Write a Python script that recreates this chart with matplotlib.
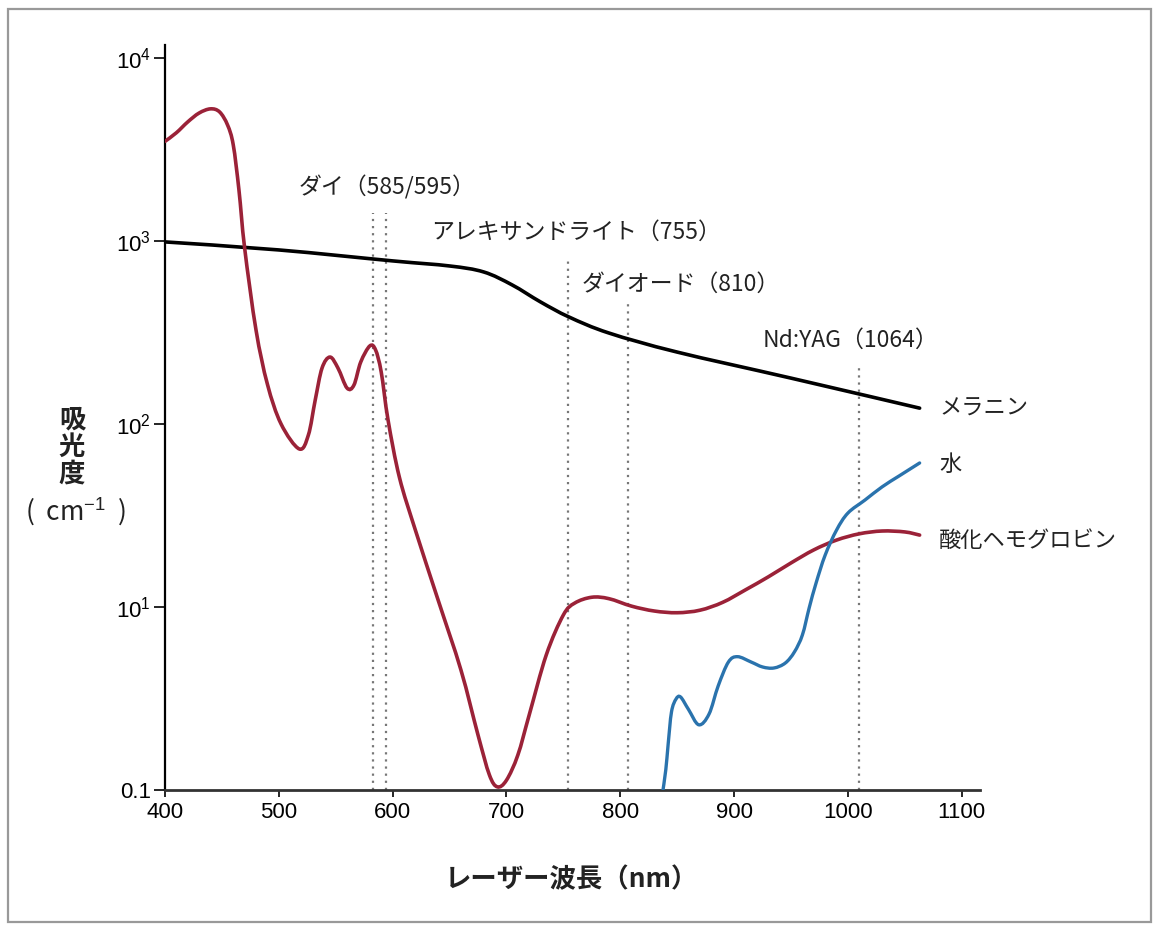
import matplotlib
matplotlib.use("Agg")
import numpy as np
import matplotlib.pyplot as plt
from matplotlib.patches import Rectangle, PathPatch
from matplotlib.path import Path

plt.rcParams['font.family'] = ['Noto Sans CJK JP', 'DejaVu Sans']
plt.rcParams['mathtext.fontset'] = 'custom'
plt.rcParams['mathtext.rm'] = 'Liberation Sans'

# 酸化ヘモグロビン
hb_nm = [400, 410, 420, 430, 440, 448, 455, 460, 465, 470, 480, 490, 502,
         518, 526, 532, 538, 545, 552, 560, 566, 572, 580, 585, 590, 596, 606,
         620, 640, 660, 675, 685, 692, 700, 710, 720, 735, 750, 760, 775, 790,
         810, 830, 850, 870, 890, 910, 930, 950, 970, 990, 1010, 1030, 1050, 1063]
hb_val = [3500, 3900, 4470, 5000, 5270, 5070, 4300, 3350, 1900, 915, 326, 165, 100,
          73, 87, 135, 202, 232, 202, 157, 163, 218, 267, 254, 192, 105, 51,
          26.3, 10.9, 4.53, 2.0, 1.21, 1.04, 1.13, 1.55, 2.57, 5.47, 9.04, 10.5, 11.3, 11.1,
          10.1, 9.5, 9.3, 9.6, 10.6, 12.4, 14.6, 17.4, 20.5, 23.2, 25.1, 26.0, 25.7, 24.7]

# 水
water_nm = [837, 840, 842, 845, 849, 853, 860, 869, 878, 886, 895, 903,
            915, 925, 935, 945, 953, 960, 966, 972, 980, 990, 1000, 1015, 1030, 1045, 1063]
water_val = [0.95, 1.29, 1.76, 2.67, 3.14, 3.22, 2.75, 2.27, 2.6, 3.7, 5.0, 5.35,
             5.0, 4.70, 4.64, 4.94, 5.68, 7.03, 9.9, 13.5, 19.2, 26.3, 32.6, 38.4, 45.3, 52.0, 61.2]

# メラニン
mel_nm = [400, 500, 600, 650, 680, 705, 730, 755, 790, 850, 950, 1063]
mel_val = [988, 893, 778, 730, 677, 575, 464, 384, 314, 247, 178, 122]

# laser lines: position, top of dotted line
laser_x = [583, 594, 754, 807, 1010]
laser_top = [1420, 1420, 807, 459, 210]
laser_labels = ['ダイ（585/595）', 'アレキサンドライト（755）', 'ダイオード（810）', 'Nd:YAG（1064）']
laser_label_x = [517, 634, 766, 925]
laser_label_y = [1970, 1120, 582, 288]

series_labels = ['メラニン', '水', '酸化ヘモグロビン']
series_label_y = [122, 59.7, 23.2]

yticks = [1, 10, 100, 1000, 10000]
ytick_labels = ['0.1', r'$\mathrm{10^{1}}$', r'$\mathrm{10^{2}}$', r'$\mathrm{10^{3}}$', r'$\mathrm{10^{4}}$']
xticks = [400, 500, 600, 700, 800, 900, 1000, 1100]


def smooth_curve(xs, ys, color, lw):
    # bezier path through the read points (control points in log space)
    x = np.asarray(xs, float)
    ly = np.log10(np.asarray(ys, float))
    p = np.column_stack([x, ly])
    p = np.vstack([p[0], p, p[-1]])
    verts = [p[1]]
    codes = [Path.MOVETO]
    for i in range(1, len(p) - 2):
        c1 = p[i] + (p[i + 1] - p[i - 1]) / 6
        c2 = p[i + 1] - (p[i + 2] - p[i]) / 6
        verts += [c1, c2, p[i + 1]]
        codes += [Path.CURVE4] * 3
    verts = np.array(verts)
    verts[:, 1] = 10 ** verts[:, 1]
    patch = PathPatch(Path(verts, codes), fill=False, edgecolor=color, lw=lw,
                      capstyle='round', joinstyle='round', zorder=3)
    ax.add_patch(patch)


fig = plt.figure(figsize=(11.6, 9.32), dpi=100)
ax = fig.add_axes([0.1422, 0.1524, 0.7026, 0.7994])

for x, top in zip(laser_x, laser_top):
    ax.plot([x, x], [1, top], color='#777777', lw=1.6, ls=(0, (1, 2.2)), zorder=1)

ax.set_yscale('log')
ax.set_xlim(400, 1116)
ax.set_ylim(1, 11780)

smooth_curve(mel_nm, mel_val, 'black', 2.6)
smooth_curve(hb_nm, hb_val, '#9b2238', 2.6)
smooth_curve(water_nm, water_val, '#2a73ad', 2.4)

ax.set_yticks(yticks)
ax.set_yticklabels(ytick_labels, fontsize=16, family='Liberation Sans')
ax.minorticks_off()
ax.set_xticks(xticks)
ax.set_xticklabels([str(t) for t in xticks], fontsize=16, family='Liberation Sans')

for s in ['top', 'right']:
    ax.spines[s].set_visible(False)
ax.spines['left'].set_linewidth(1.6)
ax.spines['bottom'].set_linewidth(2.0)
ax.spines['bottom'].set_color('#333333')
ax.tick_params(axis='y', direction='out', length=8, width=1.2, pad=2)
ax.tick_params(axis='x', direction='out', length=5, width=1.2, pad=4)

for lab, x, y in zip(laser_labels, laser_label_x, laser_label_y):
    ax.text(x, y, lab, fontsize=16.5, ha='left', va='center', color='#222222')

for lab, y in zip(series_labels, series_label_y):
    ax.text(1080, y, lab, fontsize=16, ha='left', va='center', color='#222222')

fig.text(72 / 1160, 1 - 447 / 932, '吸\n光\n度', fontsize=19, fontweight='bold',
         ha='center', va='center', linespacing=1.0, color='#222222')
fig.text(76 / 1160, 1 - 512 / 932, '(  cm$^{\\mathrm{-1}}$  )', fontsize=19,
         ha='center', va='center', color='#222222')
fig.text(572 / 1160, 1 - 880 / 932, 'レーザー波長（nm）', fontsize=19, fontweight='bold',
         ha='center', va='center', color='#222222')

fig.add_artist(Rectangle((8 / 1160, 10 / 932), 1143 / 1160, 913 / 932,
                         transform=fig.transFigure, fill=False, edgecolor='#999999', lw=1.6))

fig.savefig('out.png', dpi=100)
